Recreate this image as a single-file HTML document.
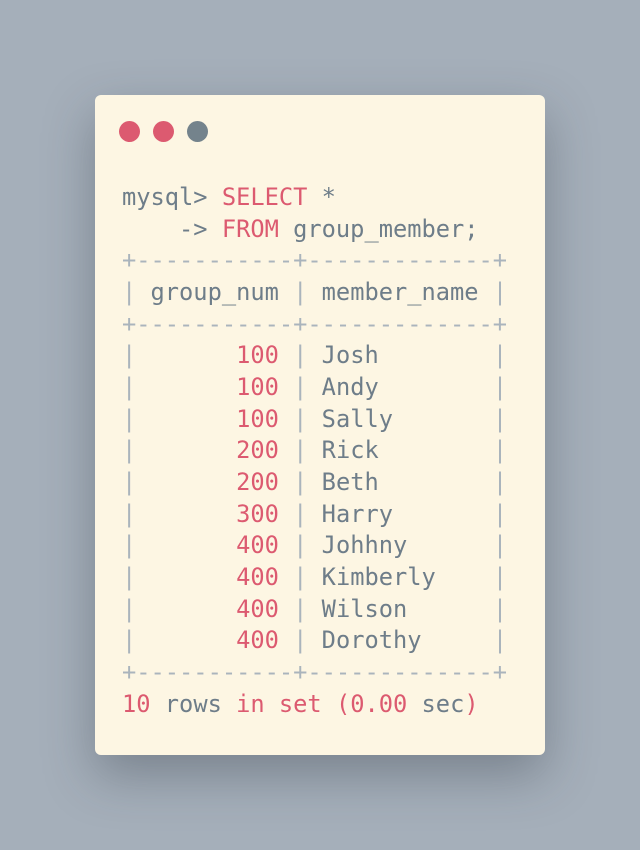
<!DOCTYPE html>
<html><head><style>
html,body{margin:0;padding:0;}
body{width:640px;height:850px;background:#a5afba;position:relative;overflow:hidden;}
.card{position:absolute;left:95px;top:95px;width:450px;height:660px;background:#fdf6e3;border-radius:6px;box-shadow:0 20px 50px rgba(40,50,60,0.35);}
.dot{position:absolute;top:121px;width:21px;height:21px;border-radius:50%;}
pre{position:absolute;left:122px;top:182px;margin:0;font-family:"DejaVu Sans Mono","Liberation Mono",monospace;font-size:23.7px;line-height:31.65px;color:#6e7d89;}
.r{color:#dc5a70;}
.b{color:#aab4bc;}
</style></head><body>
<div class="card"></div>
<div class="dot" style="left:119px;background:#dc5a70"></div>
<div class="dot" style="left:153px;background:#dc5a70"></div>
<div class="dot" style="left:187px;background:#74838c"></div>
<pre>mysql&gt; <span class="r">SELECT</span> *
    -&gt; <span class="r">FROM</span> group_member;
<span class="b">+-----------+-------------+</span>
<span class="b">|</span> group_num <span class="b">|</span> member_name <span class="b">|</span>
<span class="b">+-----------+-------------+</span>
<span class="b">|</span>       <span class="r">100</span> <span class="b">|</span> Josh        <span class="b">|</span>
<span class="b">|</span>       <span class="r">100</span> <span class="b">|</span> Andy        <span class="b">|</span>
<span class="b">|</span>       <span class="r">100</span> <span class="b">|</span> Sally       <span class="b">|</span>
<span class="b">|</span>       <span class="r">200</span> <span class="b">|</span> Rick        <span class="b">|</span>
<span class="b">|</span>       <span class="r">200</span> <span class="b">|</span> Beth        <span class="b">|</span>
<span class="b">|</span>       <span class="r">300</span> <span class="b">|</span> Harry       <span class="b">|</span>
<span class="b">|</span>       <span class="r">400</span> <span class="b">|</span> Johhny      <span class="b">|</span>
<span class="b">|</span>       <span class="r">400</span> <span class="b">|</span> Kimberly    <span class="b">|</span>
<span class="b">|</span>       <span class="r">400</span> <span class="b">|</span> Wilson      <span class="b">|</span>
<span class="b">|</span>       <span class="r">400</span> <span class="b">|</span> Dorothy     <span class="b">|</span>
<span class="b">+-----------+-------------+</span>
<span class="r">10</span> rows <span class="r">in</span> <span class="r">set</span> <span class="r">(0.00</span> sec<span class="r">)</span></pre>
</body></html>
